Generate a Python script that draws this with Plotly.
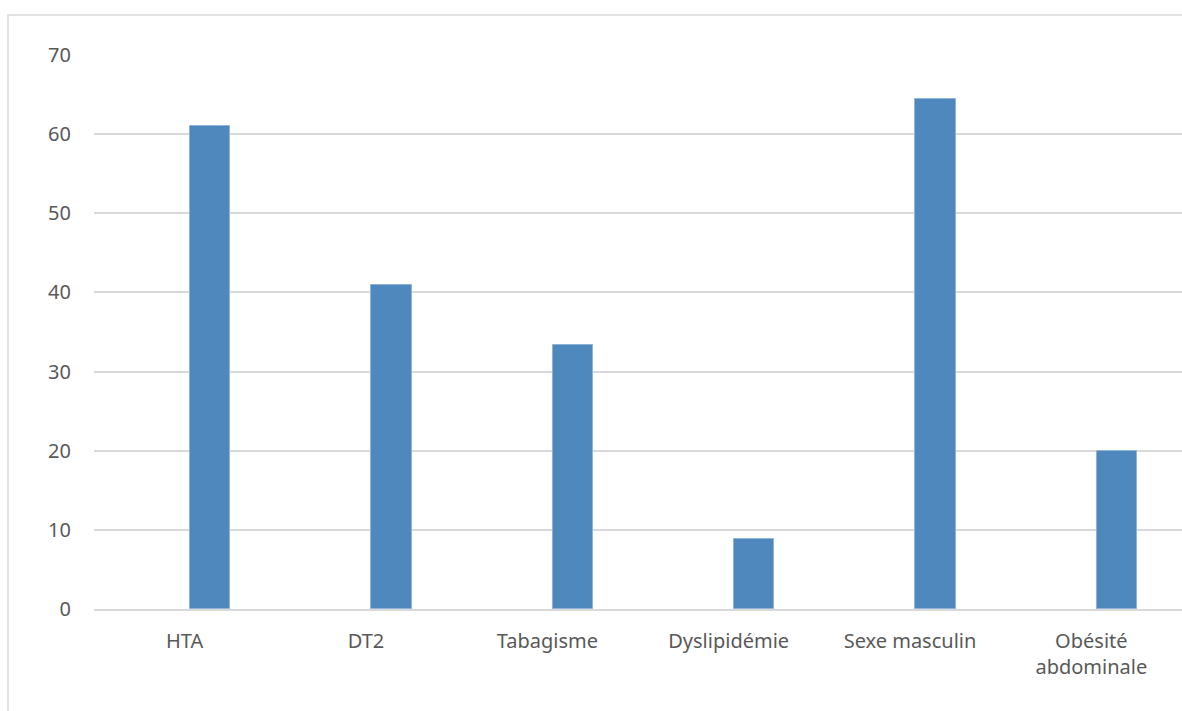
import plotly.graph_objects as go

categories = ["HTA", "DT2", "Tabagisme", "Dyslipidémie", "Sexe masculin", "Obésité<br>abdominale"]
values = [61.0, 41.0, 33.3, 8.9, 64.4, 20.0]
y_ticks = [0, 10, 20, 30, 40, 50, 60, 70]

W, H = 1182, 711
L, R, T, B = 94, 0, 55, 102
pw, ph = W - L - R, H - T - B

fig = go.Figure()
fig.add_trace(go.Bar(
    x=categories,
    y=values,
    width=0.221,
    offset=0.03,
    marker=dict(color="#4F88BD", line=dict(color="#8FB3D9", width=1)),
    hoverinfo="x+y",
))

# light chart-area frame running off the right and bottom edges
fx0 = (8 - L) / pw
fy1 = (H - B - 15) / ph
fig.add_shape(type="rect", xref="paper", yref="paper",
              x0=fx0, x1=1.2, y0=-0.5, y1=fy1,
              line=dict(color="#D9D9D9", width=1.5), fillcolor="rgba(0,0,0,0)",
              layer="below")

font = dict(family="Noto Sans, Open Sans, sans-serif", size=20, color="#595959")

fig.update_layout(
    width=W, height=H,
    margin=dict(l=L, r=R, t=T, b=B, pad=0),
    paper_bgcolor="white",
    plot_bgcolor="white",
    showlegend=False,
    font=font,
    bargap=0,
    xaxis=dict(
        type="category",
        showgrid=False,
        showline=True,
        linecolor="#D9D9D9",
        linewidth=1.5,
        ticks="",
        tickfont=font,
        ticklabelstandoff=13,
        range=[-0.5, 5.5],
    ),
    yaxis=dict(
        range=[0, 70],
        tickvals=y_ticks,
        showgrid=True,
        gridcolor="#D9D9D9",
        gridwidth=1.5,
        zeroline=False,
        showline=False,
        ticks="",
        tickfont=font,
        ticklabelstandoff=22,
    ),
)

fig.write_html("out.html")
